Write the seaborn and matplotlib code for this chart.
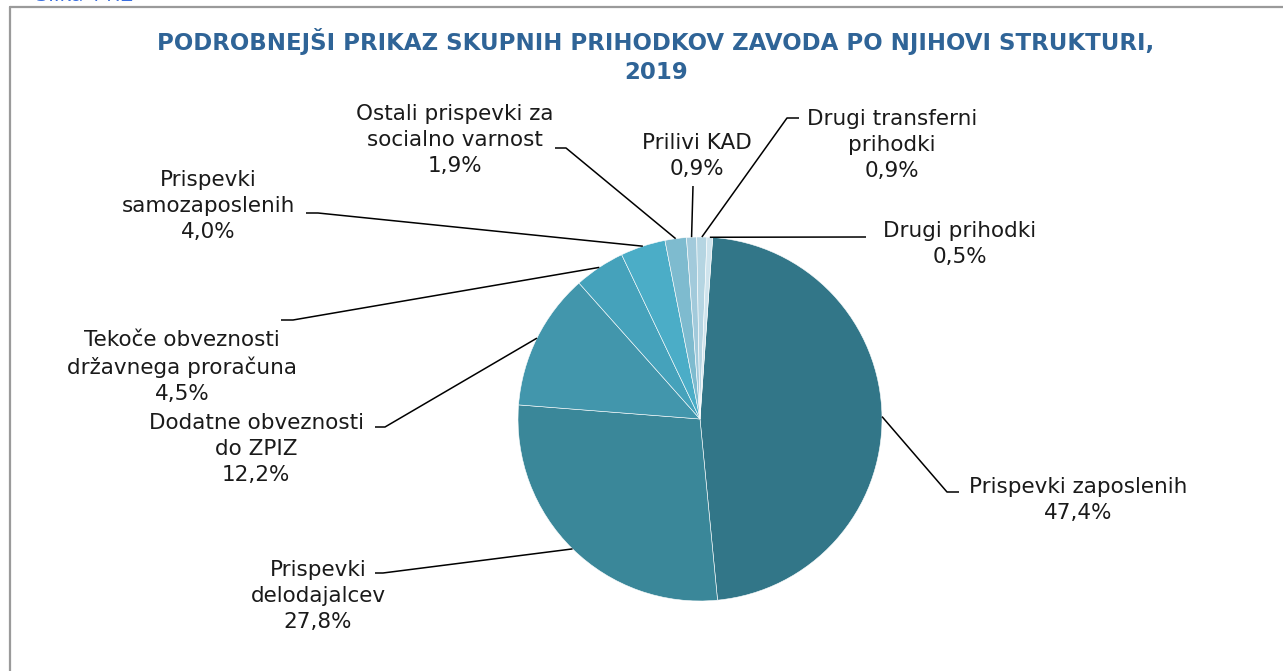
import numpy as np
import matplotlib
matplotlib.use("Agg")
import matplotlib.pyplot as plt
import seaborn as sns
from matplotlib.lines import Line2D

sns.set_theme(style="white")
plt.rcParams['font.family'] = ['DejaVu Sans']

# data
categories = [
    "Prispevki zaposlenih",
    "Prispevki\ndelodajalcev",
    "Dodatne obveznosti\ndo ZPIZ",
    "Tekoče obveznosti\ndržavnega proračuna",
    "Prispevki\nsamozaposlenih",
    "Ostali prispevki za\nsocialno varnost",
    "Prilivi KAD",
    "Drugi transferni\nprihodki",
    "Drugi prihodki",
]
shares = [47.4, 27.8, 12.2, 4.5, 4.0, 1.9, 0.9, 0.9, 0.5]
colors = ["#327688", "#3a8799", "#4296ac", "#45a2bb", "#4badc7",
          "#7ebbcf", "#a2cadb", "#b5d5e2", "#cfe4ed"]

title = "PODROBNEJŠI PRIKAZ SKUPNIH PRIHODKOV ZAVODA PO NJIHOVI STRUKTURI,\n2019"

# layout (pixels on the 1283x671 canvas)
W, H = 1283, 671
cx, cy, R = 700, 419, 182
# text centre, elbow point, end point of leader
label_pos = [
    ((1078, 500), (947, 492), (959, 492)),
    ((318, 596), (383, 573), (375, 573)),
    ((256, 449), (385, 427), (375, 427)),
    ((182, 367), (293, 320), (281, 320)),
    ((208, 206), (318, 213), (306, 213)),
    ((455, 140), (566, 148), (555, 148)),
    ((697, 156), (693, 186), (693, 186)),
    ((892, 145), (787, 118), (799, 118)),
    ((960, 244), (866, 237), (866, 237)),
]


def to_data(p):
    return ((p[0] - cx) / R, (cy - p[1]) / R)


fig = plt.figure(figsize=(W / 100, H / 100), dpi=100)
ax = fig.add_axes([(cx - R) / W, (H - cy - R) / H, 2 * R / W, 2 * R / H])

wedges, _ = ax.pie(
    shares,
    colors=colors,
    startangle=86,
    counterclock=False,
    radius=1,
    wedgeprops=dict(edgecolor="white", linewidth=0.4),
)
ax.set_xlim(-1, 1)
ax.set_ylim(-1, 1)
ax.set_aspect("equal")
ax.axis("off")

for w, name, val, (tp, elbow, end) in zip(wedges, categories, shares, label_pos):
    mid = np.deg2rad((w.theta1 + w.theta2) / 2)
    start = (np.cos(mid), np.sin(mid))
    e = to_data(elbow)
    f = to_data(end)
    ax.plot([start[0], e[0], f[0]], [start[1], e[1], f[1]],
            color="black", lw=1.1, clip_on=False, solid_capstyle="butt")
    t = to_data(tp)
    txt = name + "\n" + f"{val:.1f}%".replace(".", ",")
    ax.text(t[0], t[1], txt, ha="center", va="center", fontsize=15.5,
            color="#1a1a1a", linespacing=1.38, clip_on=False)

fig.text(656 / W, 1 - 56 / H, title, ha="center", va="center",
         fontsize=16.5, fontweight="bold", color="#2f6497", linespacing=1.3)

# frame and cut-off caption
fig.add_artist(Line2D([10 / W, 1], [1 - 7 / H, 1 - 7 / H], color="#9a9a9a", lw=1.6))
fig.add_artist(Line2D([10 / W, 10 / W], [0, 1 - 7 / H], color="#9a9a9a", lw=1.6))
fig.text(36 / W, 1 - 1 / H, "Slika 11.2", ha="left", va="baseline",
         fontsize=16, color="#3a6fe0", family=["Open Sans", "DejaVu Sans"])

fig.savefig("out.png", dpi=100)
